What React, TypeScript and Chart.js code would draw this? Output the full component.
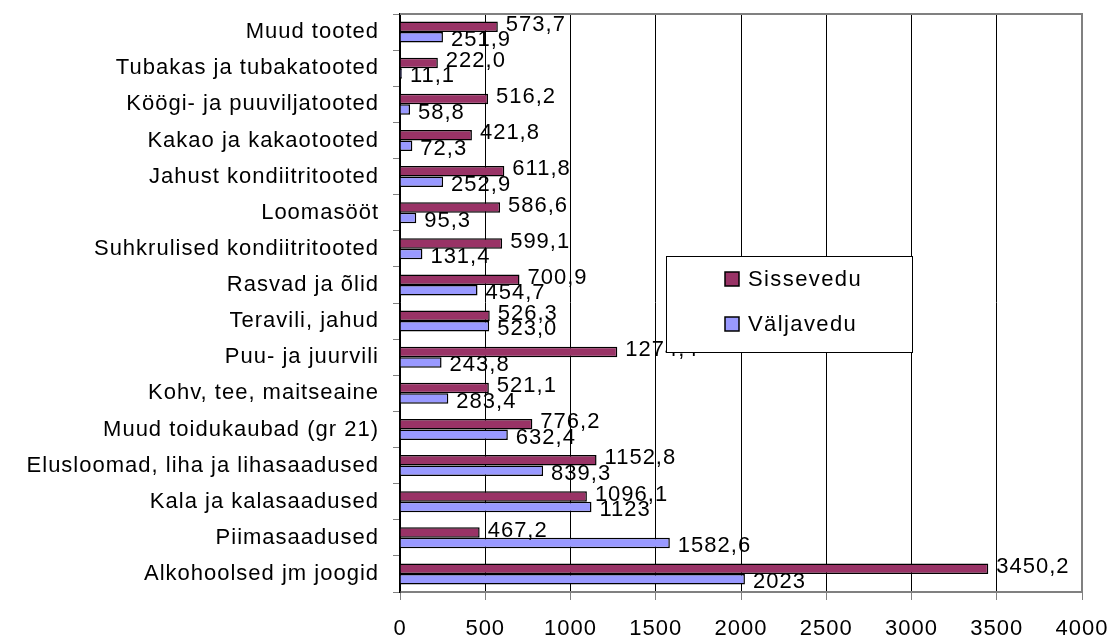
import React, { useEffect, useRef } from "react";
import { Chart, registerables } from "chart.js";

Chart.register(...registerables);

const categories = [
  "Muud tooted",
  "Tubakas ja tubakatooted",
  "Köögi- ja puuviljatooted",
  "Kakao ja kakaotooted",
  "Jahust kondiitritooted",
  "Loomasööt",
  "Suhkrulised kondiitritooted",
  "Rasvad ja õlid",
  "Teravili, jahud",
  "Puu- ja juurvili",
  "Kohv, tee, maitseaine",
  "Muud toidukaubad (gr 21)",
  "Elusloomad, liha ja lihasaadused",
  "Kala ja kalasaadused",
  "Piimasaadused",
  "Alkohoolsed jm joogid",
];

const sissevedu = [573.7, 222.0, 516.2, 421.8, 611.8, 586.6, 599.1, 700.9, 526.3, 1274.4, 521.1, 776.2, 1152.8, 1096.1, 467.2, 3450.2];
const valjavedu = [251.9, 11.1, 58.8, 72.3, 252.9, 95.3, 131.4, 454.7, 523.0, 243.8, 283.4, 632.4, 839.3, 1123, 1582.6, 2023];

const sisseveduLabels = ["573,7", "222,0", "516,2", "421,8", "611,8", "586,6", "599,1", "700,9", "526,3", "1274,4", "521,1", "776,2", "1152,8", "1096,1", "467,2", "3450,2"];
const valjaveduLabels = ["251,9", "11,1", "58,8", "72,3", "252,9", "95,3", "131,4", "454,7", "523,0", "243,8", "283,4", "632,4", "839,3", "1123", "1582,6", "2023"];

const seriesNames = ["Sissevedu", "Väljavedu"];
const seriesColors = ["#993366", "#9999FF"];

const FONT = '"Liberation Sans", Arial, sans-serif';

export default function App() {
  const ref = useRef<HTMLCanvasElement | null>(null);

  useEffect(() => {
    document.body.style.margin = "0";
    const canvas = ref.current!;
    const labelSets = [sisseveduLabels, valjaveduLabels];

    const spacingPlugin = {
      id: "spacing",
      beforeDraw(chart: any) {
        chart.ctx.letterSpacing = "1px";
      },
    };

    const valueLabels = {
      id: "valueLabels",
      afterDatasetsDraw(chart: any) {
        const ctx = chart.ctx;
        ctx.save();
        ctx.font = `22px ${FONT}`;
        ctx.letterSpacing = "1px";
        ctx.fillStyle = "#000";
        ctx.textAlign = "left";
        ctx.textBaseline = "middle";
        chart.data.datasets.forEach((_ds: any, di: number) => {
          const meta = chart.getDatasetMeta(di);
          meta.data.forEach((bar: any, i: number) => {
            ctx.fillText(labelSets[di][i], bar.x + 8, bar.y + (di === 0 ? -2 : 3));
          });
        });
        ctx.restore();
      },
    };

    const frame = {
      id: "frame",
      afterDatasetsDraw(chart: any) {
        const { ctx, chartArea } = chart;
        ctx.save();
        ctx.strokeStyle = "#808080";
        ctx.lineWidth = 2;
        ctx.beginPath();
        ctx.moveTo(chartArea.left, chartArea.top);
        ctx.lineTo(chartArea.right, chartArea.top);
        ctx.lineTo(chartArea.right, chartArea.bottom);
        ctx.stroke();
        ctx.restore();
      },
    };

    const legendBox = {
      id: "legendBox",
      afterDraw(chart: any) {
        const ctx = chart.ctx;
        ctx.save();
        ctx.fillStyle = "#fff";
        ctx.strokeStyle = "#000";
        ctx.lineWidth = 1;
        ctx.fillRect(666, 256, 246, 96);
        ctx.strokeRect(666.5, 256.5, 246, 96);
        ctx.font = `22px ${FONT}`;
        ctx.letterSpacing = "1.4px";
        ctx.textBaseline = "middle";
        ctx.textAlign = "left";
        seriesNames.forEach((name, i) => {
          const y = 272 + i * 45;
          ctx.fillStyle = seriesColors[i];
          ctx.fillRect(725, y, 14, 14);
          ctx.lineWidth = 1.5;
          ctx.strokeStyle = "#000";
          ctx.strokeRect(725, y, 14, 14);
          ctx.fillStyle = "#000";
          ctx.fillText(name, 748, y + 8);
        });
        ctx.restore();
      },
    };

    const chart = new Chart(canvas, {
      type: "bar",
      data: {
        labels: categories,
        datasets: [
          {
            label: seriesNames[0],
            data: sissevedu,
            backgroundColor: seriesColors[0],
            borderColor: "#000",
            borderWidth: 1.5,
            categoryPercentage: 0.58,
            barPercentage: 1,
          },
          {
            label: seriesNames[1],
            data: valjavedu,
            backgroundColor: seriesColors[1],
            borderColor: "#000",
            borderWidth: 1.5,
            categoryPercentage: 0.58,
            barPercentage: 1,
          },
        ],
      },
      options: {
        indexAxis: "y",
        animation: false,
        responsive: false,
        maintainAspectRatio: false,
        layout: { padding: { left: 0, top: 14, right: 29, bottom: 0 } },
        plugins: {
          legend: { display: false },
          tooltip: { enabled: false },
        },
        scales: {
          x: {
            min: 0,
            max: 4000,
            afterFit(scale: any) {
              scale.height = 47;
              scale.paddingLeft = 0;
              scale.paddingRight = 0;
            },
            ticks: {
              stepSize: 500,
              color: "#000",
              font: { family: FONT, size: 22 },
              padding: 16,
              callback: (v: any) => String(v),
            },
            grid: {
              color: (c: any) => (c.tick && c.tick.value === 4000 ? "#808080" : "#000"),
              lineWidth: 1,
              tickColor: "#808080",
              tickLength: 8,
            },
            border: { color: "#808080", width: 2 },
          },
          y: {
            afterFit(scale: any) {
              scale.width = 400;
              scale.paddingTop = 0;
              scale.paddingBottom = 0;
            },
            ticks: {
              color: "#000",
              font: { family: FONT, size: 22 },
              padding: 14,
              autoSkip: false,
            },
            grid: {
              drawOnChartArea: false,
              tickColor: "#808080",
              tickLength: 7,
            },
            border: { color: "#000", width: 1.5 },
          },
        },
      },
      plugins: [spacingPlugin, valueLabels, frame, legendBox],
    } as any);

    return () => chart.destroy();
  }, []);

  return (
    <div style={{ width: 1111, height: 639 }}>
      <canvas ref={ref} width={1111} height={639} style={{ display: "block" }} />
    </div>
  );
}
